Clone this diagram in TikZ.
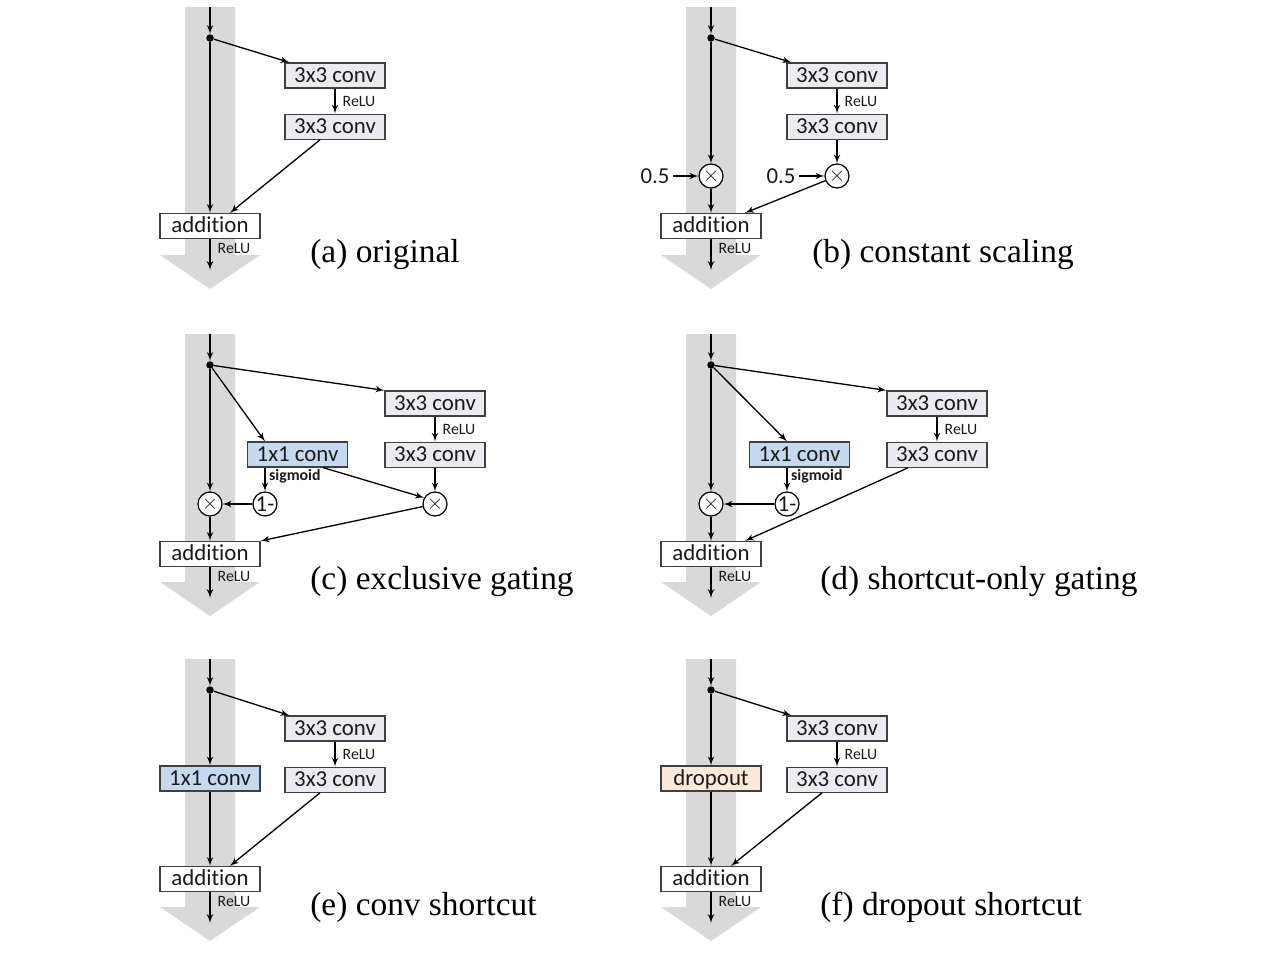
\documentclass[tikz,border=0pt]{standalone}
\usepackage{fontspec}
\setmainfont[Ligatures=NoCommon]{Carlito}
\newfontfamily\capfont{Liberation Serif}
\usepackage{xcolor}
\usetikzlibrary{shapes,arrows,positioning}
\definecolor{bandgray}{HTML}{D9D9D9}
\definecolor{convgray}{HTML}{EDEBF1}
\definecolor{gateblue}{HTML}{C6D9F1}
\definecolor{droppeach}{HTML}{FDE9D9}
\definecolor{boxline}{HTML}{404040}
\definecolor{textdark}{HTML}{1A1A1A}
\tikzset{
    band/.style={fill=bandgray, draw=none},
    block/.style={rectangle, draw=boxline, fill=convgray, text=textdark, minimum width=2cm, minimum height=0.5cm, text height=10pt, text depth=2.5pt, inner xsep=1pt, inner ysep=0.6pt, font=\fontsize{13}{14}\selectfont, line width=0.7pt},
    addblock/.style={block, fill=white},
    gateblock/.style={block, fill=gateblue},
    dropblock/.style={block, fill=droppeach},
    junction/.style={circle, fill=black, minimum size=0.15cm, inner sep=0pt},
    op/.style={circle, draw=black, fill=white, text=textdark, minimum size=0.48cm, inner sep=0pt, font=\fontsize{13}{14}\selectfont, line width=0.7pt},
    factor/.style={text=textdark, inner sep=2pt, font=\fontsize{13}{14}\selectfont},
    line/.style={draw, -latex', line width=0.75pt},
    relu/.style={right=3pt, inner sep=1pt, text=textdark, font=\fontsize{9}{10}\selectfont},
    sig/.style={right=1pt, inner sep=1pt, text=textdark, font=\fontsize{9}{10}\selectfont\bfseries},
    caption/.style={anchor=west, inner sep=0pt, font=\capfont\fontsize{19}{22}\selectfont}
}
\begin{document}
\begin{tikzpicture}[x=0.02cm, y=-0.02cm]
    \useasboundingbox (0,0) rectangle (1264,957);

    % (a) original
    \begin{scope}
    \fill [band] (185,7) -- (235,7) -- (235,255) -- (260,255) -- (210,289) -- (160,255) -- (185,255) -- cycle;
    \coordinate (topA) at (210,7);
    \node [junction] (splitA) at (210,38) {};
    \node [block] (convA) at (335,75.5) {3x3 conv};
    \node [block, below=0.5cm of convA] (convAb) {3x3 conv};
    \node [addblock] (addA) at (210,226) {addition};
    \coordinate (outA) at (210,270);
    \node [caption] (capA) at (310,255) {(a) original};

    \path [line] (topA) -- (splitA);
    \path [line] (splitA) -- ([xshift=0.1cm]convA.north west);
    \path [line] (convA) -- node [relu] {ReLU} (convAb);
    \path [line] ([xshift=-0.3cm]convAb.south) -- ([xshift=0.4cm]addA.north);
    \path [line] (splitA) -- (addA);
    \path [line] (addA) -- node [relu, pos=0.3] {ReLU} (outA);
    \end{scope}

    % (b) constant scaling
    \begin{scope}[shift={(501,0)}]
    \fill [band] (185,7) -- (235,7) -- (235,255) -- (260,255) -- (210,289) -- (160,255) -- (185,255) -- cycle;
    \coordinate (topB) at (210,7);
    \node [junction] (splitB) at (210,38) {};
    \node [block] (convB) at (336,75.5) {3x3 conv};
    \node [block, below=0.5cm of convB] (convBb) {3x3 conv};
    \node [op] (timesBl) at (210,176) {$\times$};
    \node [op] (timesBr) at (336,176) {$\times$};
    \node [factor] (halfBl) at (154,176) {0.5};
    \node [factor] (halfBr) at (280,176) {0.5};
    \node [addblock] (addB) at (210,226) {addition};
    \coordinate (outB) at (210,270);
    \node [caption] (capB) at (311,255) {(b) constant scaling};

    \path [line] (topB) -- (splitB);
    \path [line] (splitB) -- ([xshift=0.1cm]convB.north west);
    \path [line] (convB) -- node [relu] {ReLU} (convBb);
    \path [line] (convBb) -- (timesBr);
    \path [line] (halfBl) -- (timesBl);
    \path [line] (halfBr) -- (timesBr);
    \path [line] (splitB) -- (timesBl);
    \path [line] (timesBl) -- (addB);
    \path [line] (timesBr) -- ([xshift=0.68cm]addB.north);
    \path [line] (addB) -- node [relu, pos=0.3] {ReLU} (outB);
    \end{scope}

    % (c) exclusive gating
    \begin{scope}[shift={(0,327)}]
    \fill [band] (185,7) -- (235,7) -- (235,255) -- (260,255) -- (210,289) -- (160,255) -- (185,255) -- cycle;
    \coordinate (topC) at (210,7);
    \node [junction] (splitC) at (210,38) {};
    \node [block] (convC) at (435,76.5) {3x3 conv};
    \node [block, below=0.5cm of convC] (convCb) {3x3 conv};
    \node [gateblock] (gateC) at (297.5,127.5) {1x1 conv};
    \node [op] (oneC) at (265,177) {1-};
    \node [op] (timesCl) at (210,177) {$\times$};
    \node [op] (timesCr) at (435,177) {$\times$};
    \node [addblock] (addC) at (210,227) {addition};
    \coordinate (outC) at (210,271);
    \node [caption] (capC) at (310,255) {(c) exclusive gating};

    \path [line] (topC) -- (splitC);
    \path [line] (splitC) -- (convC.north west);
    \path [line] (convC) -- node [relu] {ReLU} (convCb);
    \path [line] (splitC) -- (oneC |- gateC.north);
    \path [line] (oneC |- gateC.south) -- node [sig, pos=0.35] {sigmoid} (oneC);
    \path [line] (oneC) -- (timesCl);
    \path [line] (splitC) -- (timesCl);
    \path [line] (timesCl) -- (addC);
    \path [line] ([xshift=-0.5cm]gateC.south east) -- (timesCr.150);
    \path [line] (convCb) -- (timesCr);
    \path [line] (timesCr) -- (addC.north east);
    \path [line] (addC) -- node [relu, pos=0.3] {ReLU} (outC);
    \end{scope}

    % (d) shortcut-only gating
    \begin{scope}[shift={(501,327)}]
    \fill [band] (185,7) -- (235,7) -- (235,255) -- (260,255) -- (210,289) -- (160,255) -- (185,255) -- cycle;
    \coordinate (topD) at (210,7);
    \node [junction] (splitD) at (210,38) {};
    \node [block] (convD) at (436,76.5) {3x3 conv};
    \node [block, below=0.5cm of convD] (convDb) {3x3 conv};
    \node [gateblock] (gateD) at (298.5,127.5) {1x1 conv};
    \node [op] (oneD) at (286,177) {1-};
    \node [op] (timesD) at (210,177) {$\times$};
    \node [addblock] (addD) at (210,227) {addition};
    \coordinate (outD) at (210,271);
    \node [caption] (capD) at (319,255) {(d) shortcut-only gating};

    \path [line] (topD) -- (splitD);
    \path [line] (splitD) -- (convD.north west);
    \path [line] (convD) -- node [relu] {ReLU} (convDb);
    \path [line] (splitD) -- (oneD |- gateD.north);
    \path [line] (oneD |- gateD.south) -- node [sig, pos=0.35] {sigmoid} (oneD);
    \path [line] (oneD) -- (timesD);
    \path [line] (splitD) -- (timesD);
    \path [line] (timesD) -- (addD);
    \path [line] ([xshift=-0.58cm]convDb.south) -- ([xshift=0.68cm]addD.north);
    \path [line] (addD) -- node [relu, pos=0.3] {ReLU} (outD);
    \end{scope}

    % (e) conv shortcut
    \begin{scope}[shift={(0,652)}]
    \fill [band] (185,7) -- (235,7) -- (235,255) -- (260,255) -- (210,289) -- (160,255) -- (185,255) -- cycle;
    \coordinate (topE) at (210,7);
    \node [junction] (splitE) at (210,38) {};
    \node [block] (convE) at (335,76.5) {3x3 conv};
    \node [block, below=0.5cm of convE] (convEb) {3x3 conv};
    \node [gateblock] (shortE) at (210,126.5) {1x1 conv};
    \node [addblock] (addE) at (210,227) {addition};
    \coordinate (outE) at (210,271);
    \node [caption] (capE) at (310,255) {(e) conv shortcut};

    \path [line] (topE) -- (splitE);
    \path [line] (splitE) -- ([xshift=0.1cm]convE.north west);
    \path [line] (convE) -- node [relu] {ReLU} (convEb);
    \path [line] (splitE) -- (shortE);
    \path [line] (shortE) -- (addE);
    \path [line] ([xshift=-0.3cm]convEb.south) -- ([xshift=0.4cm]addE.north);
    \path [line] (addE) -- node [relu, pos=0.3] {ReLU} (outE);
    \end{scope}

    % (f) dropout shortcut
    \begin{scope}[shift={(501,652)}]
    \fill [band] (185,7) -- (235,7) -- (235,255) -- (260,255) -- (210,289) -- (160,255) -- (185,255) -- cycle;
    \coordinate (topF) at (210,7);
    \node [junction] (splitF) at (210,38) {};
    \node [block] (convF) at (336,76.5) {3x3 conv};
    \node [block, below=0.5cm of convF] (convFb) {3x3 conv};
    \node [dropblock] (shortF) at (210,126.5) {dropout};
    \node [addblock] (addF) at (210,227) {addition};
    \coordinate (outF) at (210,271);
    \node [caption] (capF) at (319,255) {(f) dropout shortcut};

    \path [line] (topF) -- (splitF);
    \path [line] (splitF) -- ([xshift=0.1cm]convF.north west);
    \path [line] (convF) -- node [relu] {ReLU} (convFb);
    \path [line] (splitF) -- (shortF);
    \path [line] (shortF) -- (addF);
    \path [line] ([xshift=-0.3cm]convFb.south) -- ([xshift=0.4cm]addF.north);
    \path [line] (addF) -- node [relu, pos=0.3] {ReLU} (outF);
    \end{scope}
\end{tikzpicture}
\end{document}
